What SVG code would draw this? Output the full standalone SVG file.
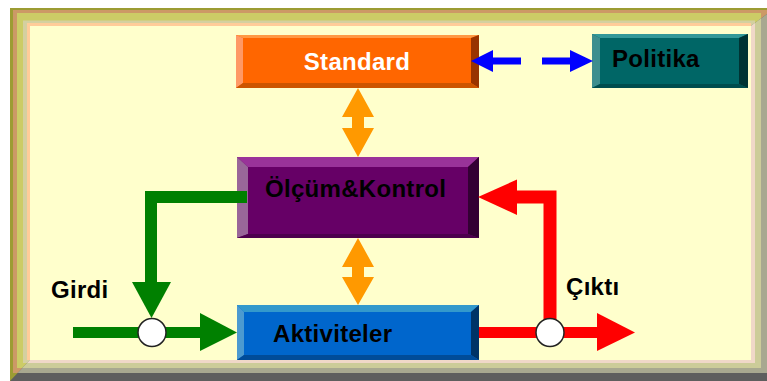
<svg xmlns="http://www.w3.org/2000/svg" width="767" height="381" viewBox="0 0 767 381">
  <style>
    .lbl { font-family: "Liberation Sans", Arial, sans-serif; font-weight: bold; font-size: 24px; letter-spacing: 0.3px; }
    .dark { fill: #000000; }
    .light { fill: #ffffff; }
    .green { stroke: #008000; fill: none; stroke-linejoin: miter; stroke-linecap: butt; }
    .greenHead { fill: #008000; }
    .red { stroke: #ff0000; fill: none; stroke-linejoin: miter; stroke-linecap: butt; }
    .redHead { fill: #ff0000; }
    .blue { fill: #0000ff; }
    .orange { fill: #ff9900; }
    .junction { fill: #ffffff; stroke: #222222; stroke-width: 1.5; }
  </style>
  <defs>
    <!-- lower and right half of the frame, split along the corner miters -->
    <clipPath id="frameLowRight">
      <polygon points="10,381 30,360 751,26 775,8 775,381"/>
    </clipPath>
  </defs>

  <rect x="0" y="0" width="767" height="381" fill="#ffffff"/>

  <!-- bevelled frame -->
  <g id="frame">
    <g id="frame-upper-left">
      <rect x="10" y="8" width="765" height="373" fill="#9c9c33"/>
      <rect x="13" y="10" width="754" height="363" fill="#cc9966"/>
      <rect x="17" y="13" width="744" height="355" fill="#cccc66"/>
      <rect x="23" y="20.5" width="732" height="342.5" fill="#d4d0a0"/>
      <rect x="27" y="23" width="724" height="337" fill="#ffcc99"/>
    </g>
    <g id="frame-lower-right" clip-path="url(#frameLowRight)">
      <rect x="10" y="8" width="765" height="373" fill="#5e5e5e"/>
      <rect x="13" y="10" width="754" height="363" fill="#a8a890"/>
      <rect x="17" y="13" width="744" height="355" fill="#cccc99"/>
      <rect x="23" y="20.5" width="732" height="342.5" fill="#f0d8c8"/>
    </g>
    <rect x="30" y="26" width="721" height="334" fill="#ffffcc"/>
  </g>

  <!-- Standard -->
  <g id="node-standard">
    <rect x="236" y="35" width="243" height="53" fill="#ff6600"/>
    <polygon points="236,35 479,35 471,38 243,38" fill="#ff9944"/>
    <polygon points="236,35 243,38 243,83 236,88" fill="#ff9966"/>
    <polygon points="479,35 479,88 471,83 471,38" fill="#993300"/>
    <polygon points="236,88 243,83 471,83 479,88" fill="#cc5500"/>
    <text class="lbl light" x="357" y="70" text-anchor="middle">Standard</text>
  </g>

  <!-- Politika -->
  <g id="node-politika">
    <rect x="592" y="34" width="156" height="54" fill="#006666"/>
    <polygon points="592,34 748,34 739,38 600,38" fill="#339999"/>
    <polygon points="592,34 600,38 600,84 592,88" fill="#3d8e8e"/>
    <polygon points="748,34 748,88 739,84 739,38" fill="#003333"/>
    <polygon points="592,88 600,84 739,84 748,88" fill="#004d4d"/>
    <text class="lbl dark" x="612" y="67">Politika</text>
  </g>

  <!-- Ölçüm&Kontrol -->
  <g id="node-olcum-kontrol">
    <rect x="237" y="157" width="242" height="81" fill="#660066"/>
    <polygon points="237,157 479,157 468,167 248,167" fill="#993399"/>
    <polygon points="237,157 248,167 248,234 237,238" fill="#996699"/>
    <polygon points="479,157 479,238 468,234 468,167" fill="#330033"/>
    <polygon points="237,238 248,234 468,234 479,238" fill="#4d004d"/>
    <text class="lbl dark" x="265" y="197">Ölçüm&amp;Kontrol</text>
  </g>

  <!-- Aktiviteler -->
  <g id="node-aktiviteler">
    <rect x="237" y="305" width="242" height="55" fill="#0066cc"/>
    <polygon points="237,305 479,305 471,312 244,312" fill="#3399cc"/>
    <polygon points="237,305 244,312 244,355 237,360" fill="#4c9ad0"/>
    <polygon points="479,305 479,360 471,355 471,312" fill="#003366"/>
    <polygon points="237,360 244,355 471,355 479,360" fill="#004c99"/>
    <text class="lbl dark" x="273" y="342">Aktiviteler</text>
  </g>

  <!-- connectors -->
  <g id="connectors">
    <!-- Standard <-> Politika (dashed, two-headed) -->
    <polygon class="blue" points="471,61 493,50 493,57.5 521,57.5 521,64.5 493,64.5 493,72"/>
    <polygon class="blue" points="593,61 570,50 570,57.5 542,57.5 542,64.5 570,64.5 570,72"/>

    <!-- Standard <-> Ölçüm&Kontrol -->
    <polygon class="orange" points="358,88 374,117 364,117 364,128 374,128 358,157 342,128 352,128 352,117 342,117"/>
    <!-- Ölçüm&Kontrol <-> Aktiviteler -->
    <polygon class="orange" points="358,238 374,267 364,267 364,277 374,277 358,305 342,277 352,277 352,267 342,267"/>

    <!-- feedback from Ölçüm&Kontrol into the input junction -->
    <polyline class="green" stroke-width="12" points="247,197 151,197 151,283"/>
    <polygon class="greenHead" points="132,282 171,282 151.5,318"/>
    <!-- Girdi into Aktiviteler -->
    <line class="green" stroke-width="11" x1="73" y1="332.5" x2="201" y2="332.5"/>
    <polygon class="greenHead" points="200,313 200,351 237,332.5"/>
    <circle class="junction" cx="152" cy="332.5" r="14"/>

    <!-- Aktiviteler out to Çıktı, fed back to Ölçüm&Kontrol -->
    <line class="red" stroke-width="11" x1="479" y1="332.5" x2="598" y2="332.5"/>
    <polygon class="redHead" points="597,313 597,351 635,332.5"/>
    <polyline class="red" stroke-width="13" points="516,197 550,197 550,333"/>
    <polygon class="redHead" points="517,179.5 517,215 478,197"/>
    <circle class="junction" cx="550" cy="332.5" r="14"/>
  </g>

  <!-- free labels -->
  <text class="lbl dark" x="51" y="298">Girdi</text>
  <text class="lbl dark" x="566" y="295">Çıktı</text>
</svg>
